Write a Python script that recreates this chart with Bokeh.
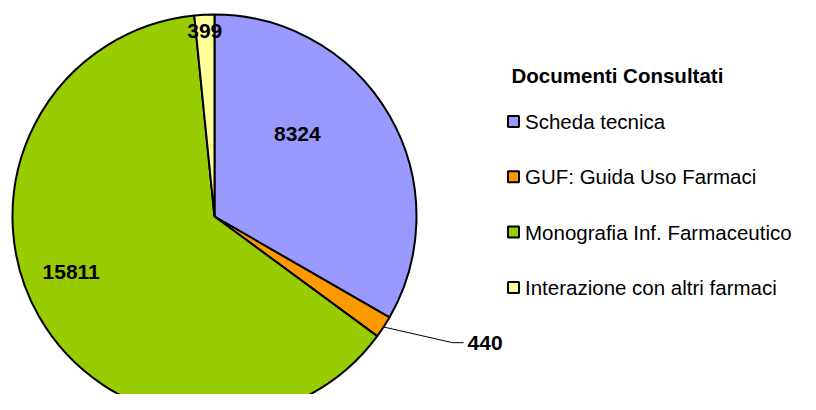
import numpy as np
from bokeh.plotting import figure
from bokeh.models import Range1d, ColumnDataSource
from bokeh.core.properties import value
from bokeh.embed import file_html
from bokeh.resources import INLINE

# ---- data ----
categories = ["Scheda tecnica", "GUF: Guida Uso Farmaci",
              "Monografia Inf. Farmaceutico", "Interazione con altri farmaci"]
counts = [8324, 440, 15811, 399]
colors = ["#9999FF", "#FF9900", "#99CC00", "#FFFF99"]
legend_title = "Documenti Consultati"

# ---- layout/style ----
W, H = 800, 394
cx, cy, R = 214, H - 216, 202
FONT = "Liberation Sans"
# label placement (degrees, fraction of radius) per slice
label_polar = [(45, 0.58), (-26.5, 1.40), (201, 0.76), (93, 0.92)]
label_align = ["center", "left", "center", "center"]

p = figure(width=W, height=H, x_range=Range1d(0, W), y_range=Range1d(0, H),
           output_backend="svg", toolbar_location=None, min_border=0)
p.axis.visible = False
p.grid.visible = False
p.outline_line_color = None
p.background_fill_color = "white"

vals = np.array(counts, dtype=float)
frac = vals / vals.sum()
cum = np.concatenate([[0], np.cumsum(frac)])
start = np.pi / 2 - cum[:-1] * 2 * np.pi
end = np.pi / 2 - cum[1:] * 2 * np.pi

src = ColumnDataSource(dict(start=start, end=end, color=colors))
p.wedge(x=cx, y=cy, radius=R, start_angle="start", end_angle="end",
        direction="clock", fill_color="color", line_color="black",
        line_width=2, source=src)

# labels
lx, ly = [], []
for ang, fr in label_polar:
    a = np.deg2rad(ang)
    lx.append(cx + fr * R * np.cos(a))
    ly.append(cy + fr * R * np.sin(a))

for i in range(len(counts)):
    p.text(x=[lx[i]], y=[ly[i]], text=[str(counts[i])], text_align=label_align[i],
           text_baseline="middle", text_font=value(FONT), text_font_style="bold",
           text_font_size="21px", text_color="black")

# leader line for the small GUF slice
mid = (start[1] + end[1]) / 2
ex, ey = cx + R * np.cos(mid), cy + R * np.sin(mid)
p.line(x=[ex, lx[1] - 15, lx[1] - 4], y=[ey, ly[1], ly[1]],
       line_color="black", line_width=1)

# legend
leg_x, leg_y0, leg_dy = 513, H - 121, 55.3
p.text(x=[leg_x - 2], y=[H - 75], text=[legend_title], text_align="left",
       text_baseline="middle", text_font=value(FONT), text_font_style="bold",
       text_font_size="20.5px", text_color="black")
ys = [leg_y0 - i * leg_dy for i in range(len(categories))]
p.rect(x=[leg_x] * len(categories), y=ys, width=11, height=11,
       fill_color=colors, line_color="black", line_width=2)
p.text(x=[leg_x + 11.5] * len(categories), y=ys, text=categories,
       text_align="left", text_baseline="middle", text_font=value(FONT),
       text_font_size="20.5px", text_color="black")

open("out.html", "w").write(file_html(p, INLINE))
